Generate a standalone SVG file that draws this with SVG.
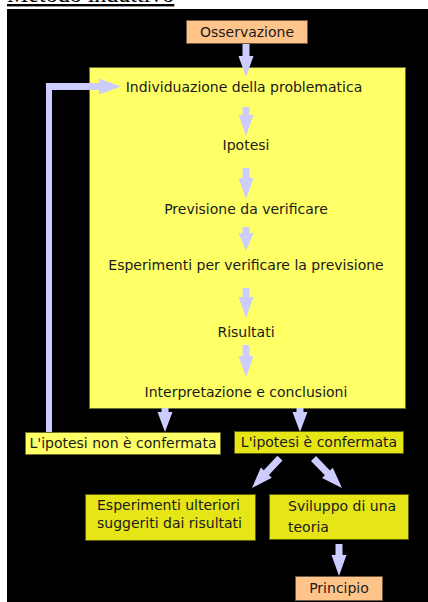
<svg xmlns="http://www.w3.org/2000/svg" xmlns:xlink="http://www.w3.org/1999/xlink" width="428" height="602" viewBox="0 0 428 602">
<style>
.t{font-family:"DejaVu Sans",sans-serif;font-size:14px;fill:#1a1a1a}
.c{text-anchor:middle}
.peach{fill:#ffc48a;stroke:#6e5a40;stroke-width:1}
.yl{fill:#ffff66;stroke:#6e6e30;stroke-width:1}
.yd{fill:#e6e617;stroke:#5e5e10;stroke-width:1}
.ar{fill:#ccccff}
</style>
<defs>
<polygon id="diag" points="-3.5,-41 3.5,-41 3.5,-21 7.5,-21 0,0 -7.5,-21 -3.5,-21"/>
</defs>
<rect x="0" y="0" width="428" height="602" fill="#ffffff"/>
<text x="7" y="2" font-family="Liberation Serif, serif" font-size="24" text-decoration="underline" fill="#000">Metodo induttivo</text>
<rect x="7" y="9" width="421" height="593" fill="#000"/>

<g id="osservazione">
<rect class="peach" x="186.5" y="20.5" width="121" height="23"/>
<text class="t c" x="247" y="37">Osservazione</text>
</g>

<g id="processo">
<rect class="yl" x="89.5" y="67.5" width="316" height="341"/>
<text class="t c" x="244" y="92">Individuazione della problematica</text>
<text class="t c" x="246" y="150">Ipotesi</text>
<text class="t c" x="246" y="214">Previsione da verificare</text>
<text class="t c" x="246" y="270">Esperimenti per verificare la previsione</text>
<text class="t c" x="246" y="337">Risultati</text>
<text class="t c" x="246" y="397">Interpretazione e conclusioni</text>
</g>

<g id="non-confermata">
<rect class="yl" x="25.5" y="432.5" width="195" height="22"/>
<text class="t c" x="123" y="448">L'ipotesi non è confermata</text>
</g>

<g id="confermata">
<rect class="yd" x="234.5" y="431.5" width="169" height="22"/>
<text class="t c" x="319" y="447">L'ipotesi è confermata</text>
</g>

<g id="esperimenti-ulteriori">
<rect class="yd" x="85.5" y="494.5" width="170" height="46"/>
<text class="t" x="97" y="510">Esperimenti ulteriori</text>
<text class="t" x="97" y="528">suggeriti dai risultati</text>
</g>

<g id="teoria">
<rect class="yd" x="269.5" y="494.5" width="139" height="45"/>
<text class="t" x="288" y="511">Sviluppo di una</text>
<text class="t" x="288" y="532">teoria</text>
</g>

<g id="principio">
<rect class="peach" x="295.5" y="576.5" width="87" height="24"/>
<text class="t c" x="339" y="593">Principio</text>
</g>

<g id="connectors" class="ar">
<polygon points="242.5,44 249.5,44 249.5,56 253.5,56 246,77 238.5,56 242.5,56"/>
<polygon points="242.5,107 249.5,107 249.5,115 253.5,115 246,136 238.5,115 242.5,115"/>
<polygon points="242.5,168 249.5,168 249.5,178 253.5,178 246,199 238.5,178 242.5,178"/>
<polygon points="242.5,227 249.5,227 249.5,233 253.5,233 246,251 238.5,233 242.5,233"/>
<polygon points="242.5,288 249.5,288 249.5,297 253.5,297 246,318 238.5,297 242.5,297"/>
<polygon points="242.5,345 249.5,345 249.5,356 253.5,356 246,377 238.5,356 242.5,356"/>
<polygon points="161.5,408 168.5,408 168.5,412 172.5,412 165,432 157.5,412 161.5,412"/>
<polygon points="296.5,408 303.5,408 303.5,412 307.5,412 300,432 292.5,412 296.5,412"/>
<polygon points="335.5,544 342.5,544 342.5,555 346.5,555 339,576 331.5,555 335.5,555"/>
<use xlink:href="#diag" transform="translate(252,488) rotate(43)"/>
<use xlink:href="#diag" transform="translate(342,488) rotate(-44)"/>
<polygon points="46,432 46,83 99,83 99,78.5 121,86.5 99,94.5 99,90 52,90 52,432"/>
</g>
</svg>
